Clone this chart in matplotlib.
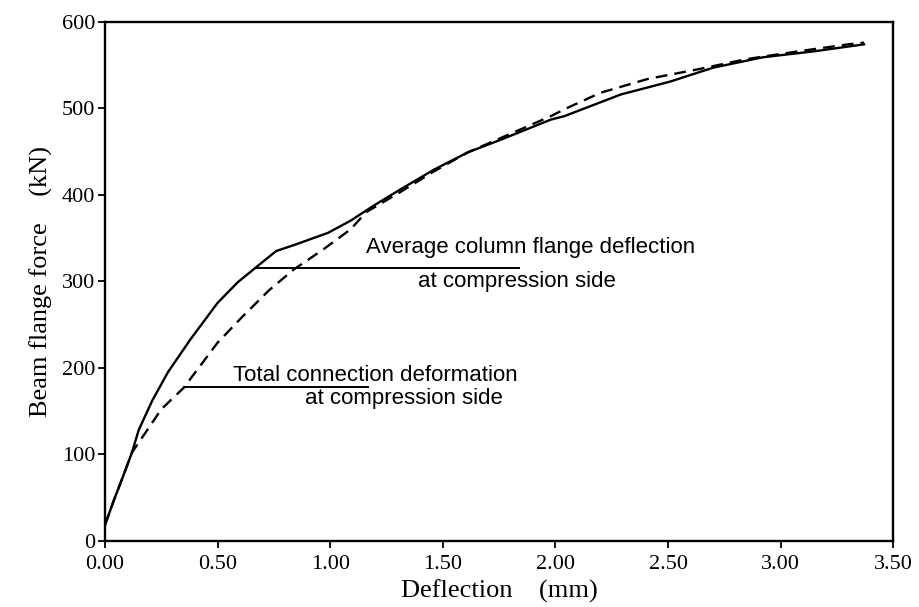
import matplotlib.pyplot as plt

# solid: average column flange deflection at compression side
avg_x = [0.00, 0.04, 0.08, 0.12, 0.15, 0.21, 0.28, 0.38, 0.50, 0.59, 0.67, 0.76,
         0.84, 0.99, 1.09, 1.19, 1.31, 1.46, 1.61, 1.76, 1.98, 2.04, 2.29, 2.51,
         2.70, 2.92, 3.15, 3.37]
avg_y = [18, 47, 74, 102, 128, 162, 195, 233, 275, 299, 316, 335,
         342, 356, 370, 387, 406, 429, 449, 464, 487, 491, 516, 531,
         547, 559, 566, 574]

# dashed: total connection deformation at compression side
tot_x = [0.00, 0.04, 0.08, 0.12, 0.18, 0.25, 0.35, 0.50, 0.61, 0.73, 0.84, 0.97,
         1.09, 1.16, 1.31, 1.46, 1.61, 1.76, 1.98, 2.04, 2.20, 2.41, 2.63,
         2.85, 3.08, 3.30, 3.37]
tot_y = [18, 47, 74, 102, 125, 152, 177, 229, 259, 290, 314, 337,
         360, 380, 403, 427, 449, 466, 491, 499, 518, 534, 545,
         557, 566, 574, 576]

x_ticks = [0.0, 0.5, 1.0, 1.5, 2.0, 2.5, 3.0, 3.5]
x_labels = ["0.00", "0.50", "1.00", "1.50", "2.00", "2.50", "3.00", "3.50"]
y_ticks = [0, 100, 200, 300, 400, 500, 600]

# annotation leaders: (x_start, x_end, y)
avg_leader = (0.67, 1.84, 316)
tot_leader = (0.35, 1.17, 178)

fig = plt.figure(figsize=(9.2, 6.07), dpi=100)
ax = fig.add_axes([0.114, 0.109, 0.857, 0.855])

ax.plot(avg_x, avg_y, color="black", lw=1.7)
ax.plot(tot_x, tot_y, color="black", lw=1.7, linestyle=(0, (5, 3)))

ax.plot([avg_leader[0], avg_leader[1]], [avg_leader[2]] * 2, color="black", lw=1.4)
ax.plot([tot_leader[0], tot_leader[1]], [tot_leader[2]] * 2, color="black", lw=1.4)

sans = "Liberation Sans"
fs = 16
ax.text(1.16, 339, "Average column flange deflection", family=sans, fontsize=fs,
        va="center", ha="left")
ax.text(1.39, 300, "at compression side", family=sans, fontsize=fs,
        va="center", ha="left")
ax.text(0.57, 191, "Total connection deformation", family=sans, fontsize=fs,
        va="center", ha="left")
ax.text(0.89, 165, "at compression side", family=sans, fontsize=fs,
        va="center", ha="left")

ax.set_xlim(0, 3.5)
ax.set_ylim(0, 600)
ax.set_xticks(x_ticks)
ax.set_xticklabels(x_labels)
ax.set_yticks(y_ticks)

serif = "Liberation Serif"
for lab in ax.get_xticklabels() + ax.get_yticklabels():
    lab.set_family(serif)
    lab.set_fontsize(16)
ax.tick_params(direction="out", length=5, width=1.3)
ax.tick_params(axis="x", pad=5)
ax.tick_params(axis="y", pad=2)

for sp in ax.spines.values():
    sp.set_linewidth(1.7)

ax.set_xlabel("Deflection    (mm)", family=serif, fontsize=19, labelpad=4)
ax.set_ylabel("Beam flange force    (kN)", family=serif, fontsize=19, labelpad=6)

fig.savefig("out.png", dpi=100)
